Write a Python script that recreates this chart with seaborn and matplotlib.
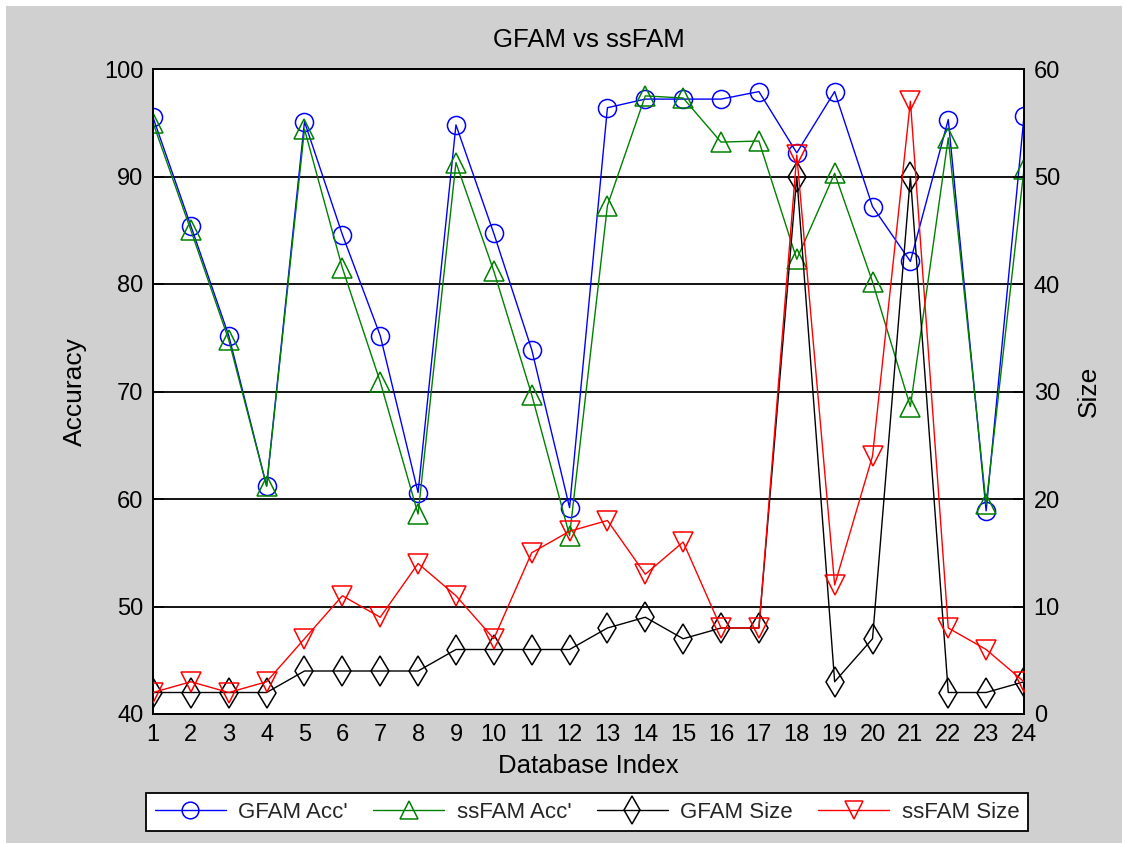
import numpy as np
import pandas as pd
import matplotlib
matplotlib.use("Agg")
import matplotlib.pyplot as plt
from matplotlib.patches import Rectangle
from matplotlib.lines import Line2D
import seaborn as sns

# Database indices
db_index = list(range(1, 25))

# Accuracy (%) per database
gfam_acc = [95.5, 85.4, 75.2, 61.2, 95.1, 84.6, 75.2, 60.6, 94.8, 84.7, 73.9, 59.2,
            96.4, 97.2, 97.2, 97.2, 97.9, 92.2, 97.9, 87.2, 82.1, 95.3, 58.9, 95.6]
ssfam_acc = [95.0, 85.0, 74.8, 61.2, 94.4, 81.5, 70.9, 58.6, 91.3, 81.2, 69.7, 56.6,
             87.3, 97.5, 97.3, 93.2, 93.3, 82.3, 90.3, 80.2, 68.6, 93.6, 59.5, 90.7]

# Network size (number of categories) per database
gfam_size = [2, 2, 2, 2, 4, 4, 4, 4, 6, 6, 6, 6,
             8, 9, 7, 8, 8, 50, 3, 7, 50, 2, 2, 3]
ssfam_size = [2, 3, 2, 3, 7, 11, 9, 14, 11, 7, 15, 17,
              18, 13, 16, 8, 8, 52, 12, 24, 57, 8, 6, 3]

acc_df = pd.DataFrame({"idx": db_index, "gfam": gfam_acc, "ssfam": ssfam_acc})
size_df = pd.DataFrame({"idx": db_index, "gfam": gfam_size, "ssfam": ssfam_size})

sns.set_theme(style="white")
plt.rcParams["font.family"] = ["Liberation Sans", "DejaVu Sans"]

W, H = 1122, 843
fig = plt.figure(figsize=(W / 100, H / 100), dpi=100)
fig.patch.set_facecolor("white")
bg = "#d0d0d0"
fig.patches.append(Rectangle((6 / W, 0), 1 - 6 / W, 1 - 6 / H,
                             transform=fig.transFigure, facecolor=bg,
                             edgecolor="none", zorder=-10))

ax = fig.add_axes([153 / W, 1 - 714 / H, (1024 - 153) / W, (714 - 69) / H])
ax.set_facecolor("white")
ax2 = ax.twinx()

lw = 1.0
common = dict(linewidth=lw, markerfacecolor="none", markeredgewidth=1.1)

sns.lineplot(data=acc_df, x="idx", y="gfam", ax=ax, color="#0000ff", marker="o",
             markersize=13, markeredgecolor="#0000ff", zorder=3, **common)
sns.lineplot(data=acc_df, x="idx", y="ssfam", ax=ax, color="#008000", marker="^",
             markersize=14, markeredgecolor="#008000", zorder=3, **common)
sns.lineplot(data=size_df, x="idx", y="gfam", ax=ax2, color="black", marker="d",
             markersize=15, markeredgecolor="black", zorder=3, **common)
sns.lineplot(data=size_df, x="idx", y="ssfam", ax=ax2, color="#ff0000", marker="v",
             markersize=14, markeredgecolor="#ff0000", zorder=3, **common)

ax.set_xlim(1, 24)
ax.set_ylim(40, 100)
ax2.set_ylim(0, 60)
ax.set_xticks(db_index)
ax.set_yticks(np.arange(40, 101, 10))
ax2.set_yticks(np.arange(0, 61, 10))

for a in (ax, ax2):
    for s in a.spines.values():
        s.set_color("black")
        s.set_linewidth(1.3)
ax.yaxis.grid(True, color="black", linewidth=1.3)
ax.xaxis.grid(False)
ax.set_axisbelow(True)

ax.tick_params(axis="both", direction="in", length=8, width=1.1, colors="black",
               labelsize=17, pad=7)
ax2.tick_params(axis="y", direction="in", length=8, width=1.1, colors="black",
                labelsize=17, pad=7)
ax.tick_params(axis="y", right=False)
ax.tick_params(axis="x", top=False)

ax.set_title("GFAM vs ssFAM", fontsize=18.5, pad=16, color="black")
ax.set_xlabel("Database Index", fontsize=18.5, labelpad=6, color="black")
ax.set_ylabel("Accuracy", fontsize=19, labelpad=12, color="black")
ax2.set_ylabel("Size", fontsize=19, labelpad=12, color="black")
ax2.grid(False)

handles = [
    Line2D([], [], color="#0000ff", marker="o", markersize=12, **common),
    Line2D([], [], color="#008000", marker="^", markersize=13, **common),
    Line2D([], [], color="black", marker="d", markersize=14, **common),
    Line2D([], [], color="#ff0000", marker="v", markersize=13, **common),
]
labels = ["GFAM Acc'", "ssFAM Acc'", "GFAM Size", "ssFAM Size"]
leg = fig.legend(handles, labels, loc="center",
                 bbox_to_anchor=((143 + 1031) / 2 / W, 1 - 812 / H),
                 ncol=4, fontsize=16, frameon=True, fancybox=False,
                 handlelength=3.2, columnspacing=1.15, handletextpad=0.55,
                 borderpad=0.4, borderaxespad=0)
leg.get_frame().set_edgecolor("black")
leg.get_frame().set_linewidth(1.3)
leg.get_frame().set_facecolor("white")
leg.get_frame().set_alpha(1)

fig.savefig("out.png", dpi=100, facecolor=fig.get_facecolor())
